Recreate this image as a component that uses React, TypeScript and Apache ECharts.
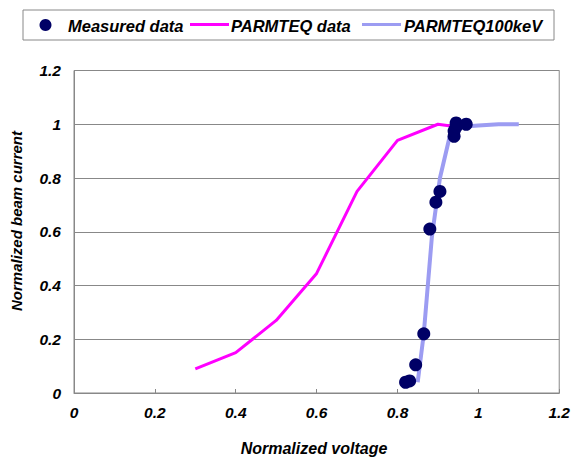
import React, { useEffect, useRef } from "react";
import * as echarts from "echarts";

const xTicks = [0, 0.2, 0.4, 0.6, 0.8, 1, 1.2];
const yTicks = [0, 0.2, 0.4, 0.6, 0.8, 1, 1.2];

const measuredX = [0.82, 0.83, 0.845, 0.865, 0.88, 0.895, 0.905, 0.94, 0.94, 0.945, 0.945, 0.97];
const measuredY = [0.04, 0.045, 0.105, 0.22, 0.61, 0.71, 0.75, 0.955, 0.975, 0.99, 1.005, 1.0];

const parmX = [0.3, 0.4, 0.5, 0.6, 0.7, 0.8, 0.9, 0.95];
const parmY = [0.09, 0.15, 0.27, 0.445, 0.75, 0.94, 1.0, 0.99];

const p100X = [0.85, 0.865, 0.885, 0.905, 0.93, 0.95, 1.0, 1.05, 1.1];
const p100Y = [0.04, 0.22, 0.58, 0.8, 0.96, 0.99, 0.995, 1.0, 1.0];

const seriesNames = ["Measured data", "PARMTEQ data", "PARMTEQ100keV"];
const xTitle = "Normalized voltage";
const yTitle = "Normalized beam current";

const FONT = '"Liberation Sans", Arial, sans-serif';
const NAVY = "#000066";
const PINK = "#ff00ff";
const LAV = "#9c9cf2";

export default function App() {
  const ref = useRef<HTMLDivElement>(null);
  useEffect(() => {
    if (!ref.current) return;
    const chart = echarts.init(ref.current, null, { renderer: "svg" });
    const labelStyle = {
      fontFamily: FONT,
      fontWeight: "bold" as const,
      fontStyle: "italic" as const,
      color: "#000",
    };
    const legendFont = `italic bold 16.5px ${FONT}`;
    chart.setOption({
      animation: false,
      backgroundColor: "#fff",
      grid: {
        left: 74,
        right: 13,
        top: 70.5,
        bottom: 65,
        show: true,
        borderColor: "#888",
        borderWidth: 1,
      },
      xAxis: {
        type: "value",
        min: xTicks[0],
        max: xTicks[xTicks.length - 1],
        interval: 0.2,
        axisLine: { show: true, lineStyle: { color: "#888", width: 1 } },
        axisTick: { show: true, inside: true, length: 4, lineStyle: { color: "#888" } },
        splitLine: { show: false },
        axisLabel: { ...labelStyle, fontSize: 15.5, margin: 11 },
      },
      yAxis: {
        type: "value",
        min: yTicks[0],
        max: yTicks[yTicks.length - 1],
        interval: 0.2,
        axisLine: { show: true, lineStyle: { color: "#888", width: 1 } },
        axisTick: { show: false },
        splitLine: { show: true, lineStyle: { color: "#888", width: 1 } },
        axisLabel: { ...labelStyle, fontSize: 15.5, margin: 13 },
      },
      series: [
        {
          name: seriesNames[1],
          type: "line",
          data: parmX.map((x, i) => [x, parmY[i]]),
          symbol: "none",
          lineStyle: { color: PINK, width: 3 },
          z: 2,
        },
        {
          name: seriesNames[2],
          type: "line",
          data: p100X.map((x, i) => [x, p100Y[i]]),
          symbol: "none",
          lineStyle: { color: LAV, width: 4 },
          z: 3,
        },
        {
          name: seriesNames[0],
          type: "scatter",
          data: measuredX.map((x, i) => [x, measuredY[i]]),
          symbol: "circle",
          symbolSize: 13,
          itemStyle: { color: NAVY, opacity: 1 },
          z: 4,
        },
      ],
      graphic: [
        {
          type: "rect",
          shape: { x: 23, y: 10, width: 531, height: 30 },
          style: { fill: "#fff", stroke: "#888", lineWidth: 1 },
        },
        {
          type: "circle",
          shape: { cx: 45.5, cy: 25, r: 6 },
          style: { fill: NAVY },
        },
        {
          type: "text",
          x: 68,
          y: 25.5,
          style: {
            text: seriesNames[0],
            font: legendFont,
            fill: "#000",
            align: "left",
            verticalAlign: "middle",
          },
        },
        {
          type: "line",
          shape: { x1: 190, y1: 24.5, x2: 229, y2: 24.5 },
          style: { stroke: PINK, lineWidth: 3 },
        },
        {
          type: "text",
          x: 231,
          y: 25.5,
          style: {
            text: seriesNames[1],
            font: legendFont,
            fill: "#000",
            align: "left",
            verticalAlign: "middle",
          },
        },
        {
          type: "line",
          shape: { x1: 362, y1: 24.5, x2: 401, y2: 24.5 },
          style: { stroke: LAV, lineWidth: 3 },
        },
        {
          type: "text",
          x: 404,
          y: 25.5,
          style: {
            text: seriesNames[2],
            font: legendFont,
            fill: "#000",
            align: "left",
            verticalAlign: "middle",
          },
        },
        {
          type: "text",
          x: 314,
          y: 448,
          style: {
            text: xTitle,
            font: `italic bold 16px ${FONT}`,
            fill: "#000",
            align: "center",
            verticalAlign: "middle",
          },
        },
        {
          type: "text",
          x: 16,
          y: 221,
          rotation: Math.PI / 2,
          style: {
            text: yTitle,
            font: `italic bold 15px ${FONT}`,
            fill: "#000",
            align: "center",
            verticalAlign: "middle",
          },
        },
      ],
    });
    return () => chart.dispose();
  }, []);
  return (
    <div
      ref={ref}
      style={{ position: "absolute", left: 0, top: 0, width: 573, height: 458 }}
    />
  );
}
